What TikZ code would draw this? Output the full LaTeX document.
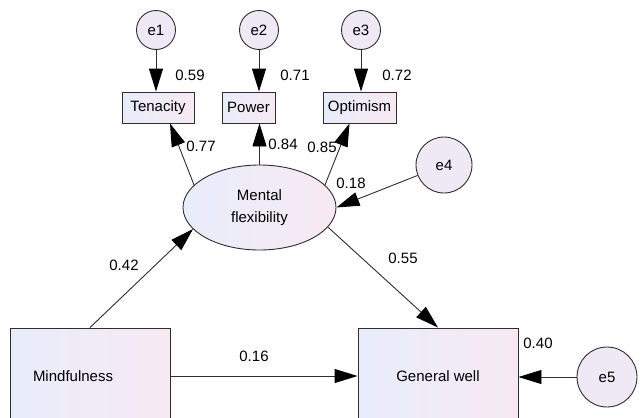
\documentclass[tikz,border=0pt]{standalone}
\usepackage{fontspec}
\setmainfont{Liberation Sans}
\usetikzlibrary{arrows.meta,positioning,shapes.geometric}
\definecolor{semLine}{RGB}{45,45,45}
\definecolor{semBlue}{RGB}{232,237,250}
\definecolor{semPink}{RGB}{247,233,243}
\definecolor{semErr}{RGB}{239,233,245}

\begin{document}
\begin{tikzpicture}[x=1pt,y=-1pt,
  font=\fontsize{15}{22}\selectfont,
  obs/.style={draw=semLine, line width=0.9pt, left color=semBlue, right color=semPink, inner sep=1pt, minimum height=31pt},
  lat/.style={ellipse, draw=semLine, line width=0.9pt, left color=semBlue, right color=semPink, minimum width=153pt, minimum height=85pt, align=center},
  err/.style={circle, draw=semLine, line width=0.9pt, fill=semErr, inner sep=0pt},
  sempath/.style={draw=semLine, line width=0.9pt, -{Triangle[length=23pt,width=14pt,black]}},
  coef/.style={inner sep=0pt}]
\useasboundingbox (0,0) rectangle (641,418);
\clip (0,0) rectangle (641,418);
% error terms and indicators
\node[err, minimum size=39pt] (e1) at (156,30) {e1};
\node[err, minimum size=39pt] (e2) at (259,30) {e2};
\node[err, minimum size=39pt] (e3) at (361,30) {e3};
\node[obs, minimum width=72pt] (ten) at (158,107.5) {Tenacity};
\node[obs, minimum width=53pt] (pow) at (248.5,107.5) {Power};
\node[obs, minimum width=73pt] (opt) at (359.5,107.5) {Optimism};
\node[lat] (mf) at (259.5,207.5) {Mental\\flexibility};
\node[err, minimum size=56pt] (e4) at (444,165) {e4};
\node[obs, minimum width=160pt, minimum height=96pt, text width=114pt, inner xsep=23pt, align=left] (mind) at (90,376) {Mindfulness};
\node[obs, minimum width=160pt, minimum height=96pt] (gw) at (438,376) {General well};
\node[err, minimum size=60pt] (e5) at (607,377) {e5};
% paths
\draw[sempath] (e1) -- (e1 |- ten.north);
\draw[sempath] (e2) -- (e2 |- pow.north);
\draw[sempath] (e3) -- (e3 |- opt.north);
\draw[sempath] (mf.161) -- ([xshift=12pt]ten.south);
\draw[sempath] (mf.north) -- (mf.north |- pow.south);
\draw[sempath] (mf.19) -- ([xshift=-10pt]opt.south);
\draw[sempath] (e4) -- (mf.east);
\draw[sempath] (mind.north) -- (mf.198);
\draw[sempath] (mf.344) -- (gw.north);
\draw[sempath] (mind.east) -- (gw.west);
\draw[sempath] (e5) -- (e5 -| gw.east);
% coefficients
\node[coef] (c59) at (190,75) {0.59};
\node[coef] (c71) at (295,75) {0.71};
\node[coef] (c72) at (397,75) {0.72};
\node[coef] (c77) at (201,146) {0.77};
\node[coef] (c84) at (283,144) {0.84};
\node[coef] (c85) at (322,147) {0.85};
\node[coef] (c18) at (351,183) {0.18};
\node[coef] (c42) at (124,265) {0.42};
\node[coef] (c55) at (403,258) {0.55};
\node[coef] (c16) at (254,356) {0.16};
\node[coef] (c40) at (538,343) {0.40};
\end{tikzpicture}
\end{document}
